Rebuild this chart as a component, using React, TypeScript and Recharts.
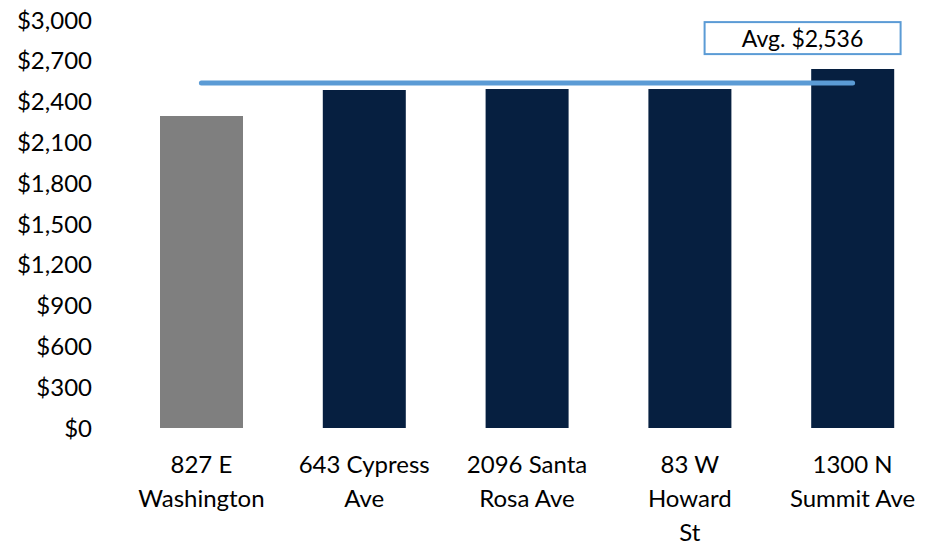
import { Bar, BarChart, Cell, ReferenceLine, XAxis, YAxis } from 'recharts'

const properties = ['827 E|Washington', '643 Cypress|Ave', '2096 Santa|Rosa Ave', '83 W|Howard|St', '1300 N|Summit Ave']
const rents = [2294, 2485, 2493, 2493, 2640]
const barColors = ['#7f7f7f', '#061f40', '#061f40', '#061f40', '#061f40']
const yTicks = [0, 300, 600, 900, 1200, 1500, 1800, 2100, 2400, 2700, 3000]
const average = 2536

const FONT = 'Lato, "Open Sans", sans-serif'

const data = properties.map((name, i) => ({ name, rent: rents[i] }))

function money(v: number) {
  return '$' + v.toLocaleString('en-US')
}

function PropertyTick({ x, y, payload }: any) {
  const lines = String(payload.value).split('|')
  return (
    <text x={x} y={y} textAnchor="middle" fontFamily={FONT} fontSize={24} fill="#000">
      {lines.map((line, i) => (
        <tspan key={i} x={x} dy={i === 0 ? 37 : 34}>
          {line}
        </tspan>
      ))}
    </text>
  )
}

function AvgLabel({ viewBox }: any) {
  const right = viewBox.x + viewBox.width + 48
  const top = viewBox.y - 61
  return (
    <g>
      <rect x={right - 196} y={top} width={196} height={32} fill="#fff" stroke="#5b9bd5" strokeWidth={2} />
      <text x={right - 98} y={top + 25} textAnchor="middle" fontFamily={FONT} fontSize={23} fill="#000">
        {'Avg. ' + money(average)}
      </text>
    </g>
  )
}

export default function App() {
  return (
    <div style={{ position: 'absolute', left: 0, top: 0, width: 928, height: 552, overflow: 'hidden', background: '#fff' }}>
      <BarChart width={934} height={552} data={data} margin={{ top: 20, right: 0, left: 0, bottom: 0 }}>
        <XAxis
          dataKey="name"
          axisLine={false}
          tickLine={false}
          height={124}
          interval={0}
          tick={<PropertyTick />}
        />
        <YAxis
          width={120}
          domain={[0, 3000]}
          ticks={yTicks}
          axisLine={false}
          tickLine={false}
          tickSize={6}
          tickMargin={22}
          tickFormatter={money}
          tick={{ fontFamily: FONT, fontSize: 24, fill: '#000' }}
        />
        <Bar dataKey="rent" barSize={83} isAnimationActive={false}>
          {data.map((_, i) => (
            <Cell key={i} fill={barColors[i]} />
          ))}
        </Bar>
        <ReferenceLine
          segment={[
            { x: properties[0], y: average },
            { x: properties[properties.length - 1], y: average },
          ]}
          stroke="#5b9bd5"
          strokeWidth={5}
          strokeLinecap="round"
          label={<AvgLabel />}
        />
      </BarChart>
    </div>
  )
}
